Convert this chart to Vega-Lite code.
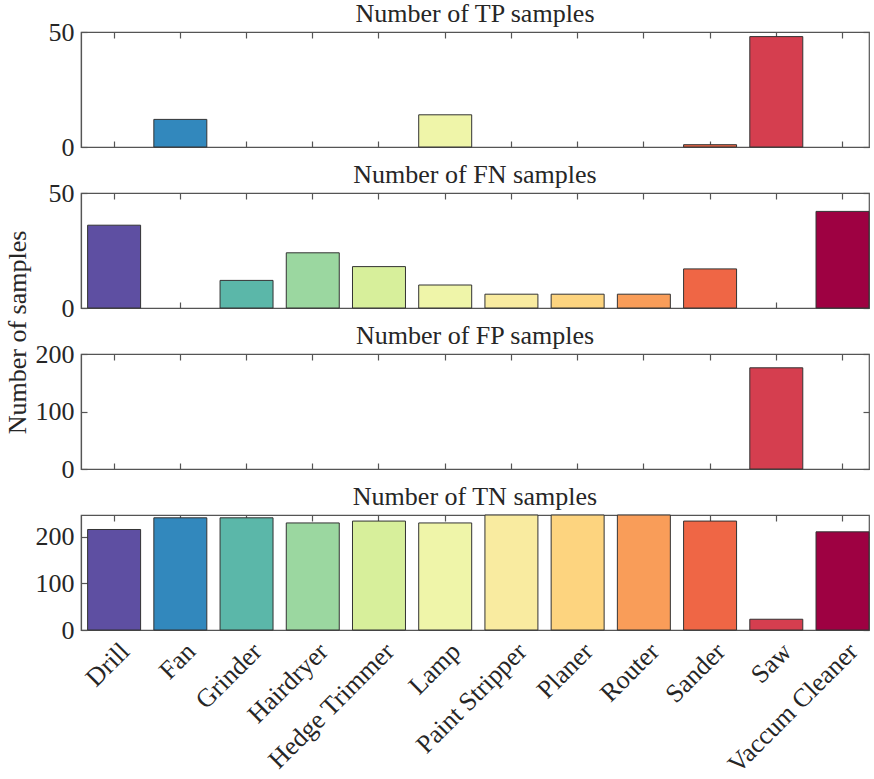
{
  "$schema": "https://vega.github.io/schema/vega-lite/v6.json",
  "background": "white",
  "padding": {"left": 3, "top": 0, "right": 4, "bottom": 2},
  "spacing": 46,
  "bounds": "flush",
  "datasets": {
    "d": [
      {"panel": "TP", "device": "Fan", "value": 12},
      {"panel": "TP", "device": "Lamp", "value": 14},
      {"panel": "TP", "device": "Sander", "value": 1},
      {"panel": "TP", "device": "Saw", "value": 48},
      {"panel": "FN", "device": "Drill", "value": 36},
      {"panel": "FN", "device": "Grinder", "value": 12},
      {"panel": "FN", "device": "Hairdryer", "value": 24},
      {"panel": "FN", "device": "Hedge Trimmer", "value": 18},
      {"panel": "FN", "device": "Lamp", "value": 10},
      {"panel": "FN", "device": "Paint Stripper", "value": 6},
      {"panel": "FN", "device": "Planer", "value": 6},
      {"panel": "FN", "device": "Router", "value": 6},
      {"panel": "FN", "device": "Sander", "value": 17},
      {"panel": "FN", "device": "Vaccum Cleaner", "value": 42},
      {"panel": "FP", "device": "Saw", "value": 176},
      {"panel": "TN", "device": "Drill", "value": 215},
      {"panel": "TN", "device": "Fan", "value": 240},
      {"panel": "TN", "device": "Grinder", "value": 240},
      {"panel": "TN", "device": "Hairdryer", "value": 229},
      {"panel": "TN", "device": "Hedge Trimmer", "value": 233},
      {"panel": "TN", "device": "Lamp", "value": 229},
      {"panel": "TN", "device": "Paint Stripper", "value": 246},
      {"panel": "TN", "device": "Planer", "value": 246},
      {"panel": "TN", "device": "Router", "value": 246},
      {"panel": "TN", "device": "Sander", "value": 233},
      {"panel": "TN", "device": "Saw", "value": 23},
      {"panel": "TN", "device": "Vaccum Cleaner", "value": 210}
    ]
  },
  "vconcat": [
    {
      "width": 788, "height": 115,
      "title": {"text": "Number of TP samples"},
      "data": {"name": "d"},
      "transform": [{"filter": "datum.panel === 'TP'"}],
      "layer": [
        {
          "mark": {"type": "bar", "stroke": "#333333", "strokeWidth": 1},
          "encoding": {
            "x": {"field": "device", "type": "nominal", "scale": {"domain": ["Drill", "Fan", "Grinder", "Hairdryer", "Hedge Trimmer", "Lamp", "Paint Stripper", "Planer", "Router", "Sander", "Saw", "Vaccum Cleaner"], "paddingInner": 0.2, "paddingOuter": 0.05, "align": 1}, "axis": {"labels": false, "title": null}},
            "y": {"field": "value", "type": "quantitative", "scale": {"domain": [0, 50], "nice": false}, "axis": {"values": [0, 50], "title": null}},
            "color": {"field": "device", "type": "nominal", "scale": {"domain": ["Drill", "Fan", "Grinder", "Hairdryer", "Hedge Trimmer", "Lamp", "Paint Stripper", "Planer", "Router", "Sander", "Saw", "Vaccum Cleaner"], "range": ["#5e4fa2", "#3288bd", "#5bb7a9", "#9bd7a0", "#d7ef9b", "#eff5a9", "#f9eba0", "#fdd47f", "#f99d59", "#ef6645", "#d53e4f", "#9e0142"]}, "legend": null}
          }
        },
        {
          "mark": {"type": "bar", "opacity": 0},
          "encoding": {
            "x": {"field": "device", "type": "nominal", "axis": {"labels": false, "title": null, "orient": "top", "domain": false}},
            "y": {"field": "value", "type": "quantitative", "axis": {"values": [0, 50], "labels": false, "title": null, "orient": "right", "domain": false}}
          }
        }
      ],
      "resolve": {"axis": {"x": "independent", "y": "independent"}}
    },
    {
      "width": 788, "height": 115,
      "title": {"text": "Number of FN samples"},
      "data": {"name": "d"},
      "transform": [{"filter": "datum.panel === 'FN'"}],
      "layer": [
        {
          "mark": {"type": "bar", "stroke": "#333333", "strokeWidth": 1},
          "encoding": {
            "x": {"field": "device", "type": "nominal", "scale": {"domain": ["Drill", "Fan", "Grinder", "Hairdryer", "Hedge Trimmer", "Lamp", "Paint Stripper", "Planer", "Router", "Sander", "Saw", "Vaccum Cleaner"], "paddingInner": 0.2, "paddingOuter": 0.05, "align": 1}, "axis": {"labels": false, "title": null}},
            "y": {"field": "value", "type": "quantitative", "scale": {"domain": [0, 50], "nice": false}, "axis": {"values": [0, 50], "title": "Number of samples", "titleX": -64, "titleY": 139, "titleAngle": -90, "titleAlign": "center", "titleBaseline": "middle"}},
            "color": {"field": "device", "type": "nominal", "scale": {"domain": ["Drill", "Fan", "Grinder", "Hairdryer", "Hedge Trimmer", "Lamp", "Paint Stripper", "Planer", "Router", "Sander", "Saw", "Vaccum Cleaner"], "range": ["#5e4fa2", "#3288bd", "#5bb7a9", "#9bd7a0", "#d7ef9b", "#eff5a9", "#f9eba0", "#fdd47f", "#f99d59", "#ef6645", "#d53e4f", "#9e0142"]}, "legend": null}
          }
        },
        {
          "mark": {"type": "bar", "opacity": 0},
          "encoding": {
            "x": {"field": "device", "type": "nominal", "axis": {"labels": false, "title": null, "orient": "top", "domain": false}},
            "y": {"field": "value", "type": "quantitative", "axis": {"values": [0, 50], "labels": false, "title": null, "orient": "right", "domain": false}}
          }
        }
      ],
      "resolve": {"axis": {"x": "independent", "y": "independent"}}
    },
    {
      "width": 788, "height": 115,
      "title": {"text": "Number of FP samples"},
      "data": {"name": "d"},
      "transform": [{"filter": "datum.panel === 'FP'"}],
      "layer": [
        {
          "mark": {"type": "bar", "stroke": "#333333", "strokeWidth": 1},
          "encoding": {
            "x": {"field": "device", "type": "nominal", "scale": {"domain": ["Drill", "Fan", "Grinder", "Hairdryer", "Hedge Trimmer", "Lamp", "Paint Stripper", "Planer", "Router", "Sander", "Saw", "Vaccum Cleaner"], "paddingInner": 0.2, "paddingOuter": 0.05, "align": 1}, "axis": {"labels": false, "title": null}},
            "y": {"field": "value", "type": "quantitative", "scale": {"domain": [0, 200], "nice": false}, "axis": {"values": [0, 100, 200], "title": null}},
            "color": {"field": "device", "type": "nominal", "scale": {"domain": ["Drill", "Fan", "Grinder", "Hairdryer", "Hedge Trimmer", "Lamp", "Paint Stripper", "Planer", "Router", "Sander", "Saw", "Vaccum Cleaner"], "range": ["#5e4fa2", "#3288bd", "#5bb7a9", "#9bd7a0", "#d7ef9b", "#eff5a9", "#f9eba0", "#fdd47f", "#f99d59", "#ef6645", "#d53e4f", "#9e0142"]}, "legend": null}
          }
        },
        {
          "mark": {"type": "bar", "opacity": 0},
          "encoding": {
            "x": {"field": "device", "type": "nominal", "axis": {"labels": false, "title": null, "orient": "top", "domain": false}},
            "y": {"field": "value", "type": "quantitative", "axis": {"values": [0, 100, 200], "labels": false, "title": null, "orient": "right", "domain": false}}
          }
        }
      ],
      "resolve": {"axis": {"x": "independent", "y": "independent"}}
    },
    {
      "width": 788, "height": 115,
      "title": {"text": "Number of TN samples", "offset": 4},
      "data": {"name": "d"},
      "transform": [{"filter": "datum.panel === 'TN'"}],
      "layer": [
        {
          "mark": {"type": "bar", "stroke": "#333333", "strokeWidth": 1},
          "encoding": {
            "x": {"field": "device", "type": "nominal", "scale": {"domain": ["Drill", "Fan", "Grinder", "Hairdryer", "Hedge Trimmer", "Lamp", "Paint Stripper", "Planer", "Router", "Sander", "Saw", "Vaccum Cleaner"], "paddingInner": 0.2, "paddingOuter": 0.05, "align": 1}, "axis": {"title": null, "labelAngle": -45, "labelAlign": "right", "labelBaseline": "middle", "labelFontSize": 26, "labelPadding": 23, "labelOffset": 11}},
            "y": {"field": "value", "type": "quantitative", "scale": {"domain": [0, 246], "nice": false}, "axis": {"values": [0, 100, 200], "title": null}},
            "color": {"field": "device", "type": "nominal", "scale": {"domain": ["Drill", "Fan", "Grinder", "Hairdryer", "Hedge Trimmer", "Lamp", "Paint Stripper", "Planer", "Router", "Sander", "Saw", "Vaccum Cleaner"], "range": ["#5e4fa2", "#3288bd", "#5bb7a9", "#9bd7a0", "#d7ef9b", "#eff5a9", "#f9eba0", "#fdd47f", "#f99d59", "#ef6645", "#d53e4f", "#9e0142"]}, "legend": null}
          }
        },
        {
          "mark": {"type": "bar", "opacity": 0},
          "encoding": {
            "x": {"field": "device", "type": "nominal", "axis": {"labels": false, "title": null, "orient": "top", "domain": false}},
            "y": {"field": "value", "type": "quantitative", "axis": {"values": [0, 100, 200], "labels": false, "title": null, "orient": "right", "domain": false}}
          }
        }
      ],
      "resolve": {"axis": {"x": "independent", "y": "independent"}}
    }
  ],
  "config": {
    "font": "Liberation Serif",
    "view": {"stroke": "#555555", "strokeWidth": 1.2},
    "title": {"font": "Liberation Serif", "fontSize": 26, "fontWeight": "normal", "color": "#262626", "offset": -8, "anchor": "middle"},
    "axis": {
      "labelFont": "Liberation Serif", "labelFontSize": 26, "labelColor": "#262626",
      "titleFont": "Liberation Serif", "titleFontSize": 26, "titleFontWeight": "normal", "titleColor": "#262626",
      "domainColor": "#555555", "domainWidth": 1.2,
      "tickColor": "#555555", "tickSize": -6, "tickWidth": 1.2,
      "labelPadding": 13, "grid": false
    }
  }
}
